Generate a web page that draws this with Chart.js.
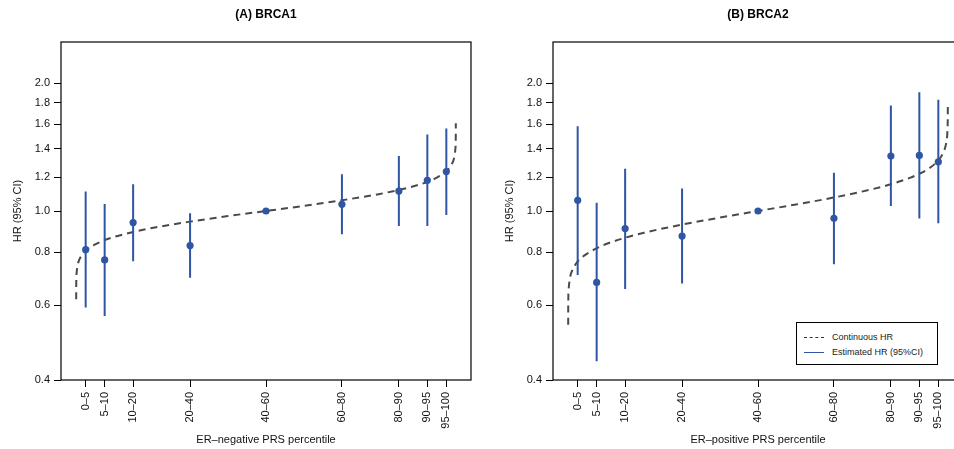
<!DOCTYPE html>
<html>
<head>
<meta charset="utf-8">
<script src="https://cdn.jsdelivr.net/npm/chart.js@4.4.0/dist/chart.umd.min.js"></script>
<style>
  body { margin: 0; width: 954px; height: 449px; overflow: hidden; background: #fff; position: relative;
         font-family: "Liberation Sans", Arial, sans-serif; }
  .panel { position: absolute; top: 0; width: 532px; height: 449px; }
  .panel canvas { width: 532px; height: 449px; }
  .title { position: absolute; top: 7px; font-weight: bold; font-size: 12px; color: #000;
           transform: translateX(-50%); white-space: nowrap; }
  #legend { position: absolute; left: 796px; top: 322px; width: 140px; height: 41px;
            border: 1px solid #000; background: #fff; font-size: 9px; color: #222; }
  #legend .row { position: absolute; left: 7px; height: 12px; }
  #legend .swatch { position: absolute; left: 0; top: 6px; width: 20px; }
  #legend .lab { position: absolute; left: 28px; top: 0; white-space: nowrap; line-height: 12px; }
</style>
</head>
<body>
<div class="panel" style="left:0"><canvas id="chartA" width="532" height="449"></canvas></div>
<div class="panel" style="left:492px"><canvas id="chartB" width="532" height="449"></canvas></div>
<div class="title" style="left:266px">(A) BRCA1</div>
<div class="title" style="left:758px">(B) BRCA2</div>
<div id="legend">
  <div class="row" style="top:8px"><div class="swatch" style="border-top:1px dashed #333"></div><div class="lab">Continuous HR</div></div>
  <div class="row" style="top:23px"><div class="swatch" style="border-top:1.5px solid #2f55a4"></div><div class="lab">Estimated HR (95%CI)</div></div>
</div>
<script>
// percentile groups, plotted at their midpoints
const groupLabels = ['0–5', '5–10', '10–20', '20–40', '40–60', '60–80', '80–90', '90–95', '95–100'];
const groupMid = [2.5, 7.5, 15, 30, 50, 70, 85, 92.5, 97.5];
const yTicks = [0.4, 0.6, 0.8, 1.0, 1.2, 1.4, 1.6, 1.8, 2.0];

// BRCA1 (ER-negative PRS)
const estA = [0.811, 0.767, 0.939, 0.829, 1.0, 1.037, 1.114, 1.181, 1.238];
const lowA = [0.593, 0.566, 0.762, 0.696, null, 0.881, 0.922, 0.922, 0.979];
const highA = [1.111, 1.039, 1.156, 0.988, null, 1.220, 1.347, 1.515, 1.565];

// BRCA2 (ER-positive PRS)
const estB = [1.060, 0.679, 0.909, 0.873, 1.0, 0.961, 1.347, 1.352, 1.306];
const lowB = [0.707, 0.443, 0.655, 0.675, null, 0.749, 1.027, 0.960, 0.936];
const highB = [1.584, 1.046, 1.258, 1.129, null, 1.231, 1.772, 1.905, 1.828];

// continuous HR curves
const curvePct = [0, 0.01, 0.1, 0.5, 1, 2, 3, 5, 7.5, 10, 15, 20, 30, 40, 50, 60, 70, 80, 85, 90, 92.5, 95, 97, 98, 99, 99.5, 99.9, 99.99, 100];
const curveA = [0.62, 0.664, 0.712, 0.753, 0.774, 0.798, 0.813, 0.834, 0.854, 0.869, 0.892, 0.912, 0.944, 0.973, 1.0, 1.028, 1.060, 1.097, 1.121, 1.151, 1.171, 1.198, 1.230, 1.253, 1.292, 1.327, 1.405, 1.506, 1.61];
const curveB = [0.54, 0.594, 0.649, 0.697, 0.722, 0.750, 0.769, 0.794, 0.817, 0.836, 0.865, 0.889, 0.929, 0.965, 1.0, 1.036, 1.076, 1.125, 1.156, 1.197, 1.224, 1.259, 1.301, 1.333, 1.385, 1.435, 1.542, 1.684, 1.78];

const BLUE = '#2f55a4';

Chart.defaults.font.family = "'Liberation Sans', Arial, sans-serif";
Chart.defaults.font.size = 11;
Chart.defaults.color = '#111';

// full box around the plot area
const boxPlugin = {
    id: 'plotBox',
    afterDraw(chart) {
        const { ctx, chartArea: a } = chart;
        ctx.save();
        ctx.strokeStyle = '#000';
        ctx.lineWidth = 1.2;
        ctx.strokeRect(a.left, a.top, a.right - a.left, a.bottom - a.top);
        ctx.restore();
    }
};

function makeChart(id, est, low, high, curve, xTitle) {
    // CI segments separated by null gaps
    const ciData = [];
    groupMid.forEach((m, i) => {
        if (low[i] === null) return;
        ciData.push({ x: m, y: low[i] }, { x: m, y: high[i] }, { x: m, y: null });
    });

    return new Chart(document.getElementById(id), {
        type: 'scatter',
        data: {
            datasets: [
                {
                    label: 'Estimate',
                    data: groupMid.map((m, i) => ({ x: m, y: est[i] })),
                    pointRadius: 3.6,
                    pointBackgroundColor: BLUE,
                    pointBorderWidth: 0,
                    showLine: false
                },
                {
                    label: 'Estimated HR (95%CI)',
                    data: ciData,
                    showLine: true,
                    spanGaps: false,
                    borderColor: BLUE,
                    borderWidth: 2,
                    pointRadius: 0
                },
                {
                    label: 'Continuous HR',
                    data: curvePct.map((p, i) => ({ x: p, y: curve[i] })),
                    showLine: true,
                    borderColor: '#4a4a4a',
                    borderWidth: 2,
                    borderDash: [7, 5],
                    cubicInterpolationMode: 'monotone',
                    pointRadius: 0
                }
            ]
        },
        options: {
            responsive: false,
            animation: false,
            events: [],
            layout: { padding: { left: 0, right: 61, top: 42, bottom: 2 } },
            plugins: { legend: { display: false }, tooltip: { enabled: false } },
            scales: {
                x: {
                    type: 'linear',
                    min: -4,
                    max: 104,
                    afterBuildTicks: s => { s.ticks = groupMid.map(v => ({ value: v })); },
                    afterFit: s => { s.height = 67; },
                    border: { display: false },
                    grid: { drawOnChartArea: false, drawTicks: true, tickLength: 7, color: '#000' },
                    ticks: {
                        autoSkip: false,
                        maxRotation: 90,
                        minRotation: 90,
                        padding: 5,
                        color: '#111',
                        callback: (v, i) => groupLabels[i]
                    },
                    title: { display: true, text: xTitle, padding: { top: 0, bottom: 0 }, color: '#111' }
                },
                y: {
                    type: 'logarithmic',
                    min: 0.4,
                    max: 2.5,
                    afterBuildTicks: s => { s.ticks = yTicks.map(v => ({ value: v })); },
                    afterFit: s => { s.width = 61; },
                    border: { display: false },
                    grid: { drawOnChartArea: false, drawTicks: true, tickLength: 7, color: '#000' },
                    ticks: {
                        padding: 4,
                        color: '#111',
                        callback: v => Number(v).toFixed(1)
                    },
                    title: { display: true, text: 'HR (95% CI)', padding: { top: 11, bottom: 0 }, color: '#111' }
                }
            }
        },
        plugins: [boxPlugin]
    });
}

makeChart('chartA', estA, lowA, highA, curveA, 'ER–negative PRS percentile');
makeChart('chartB', estB, lowB, highB, curveB, 'ER–positive PRS percentile');
</script>
</body>
</html>
